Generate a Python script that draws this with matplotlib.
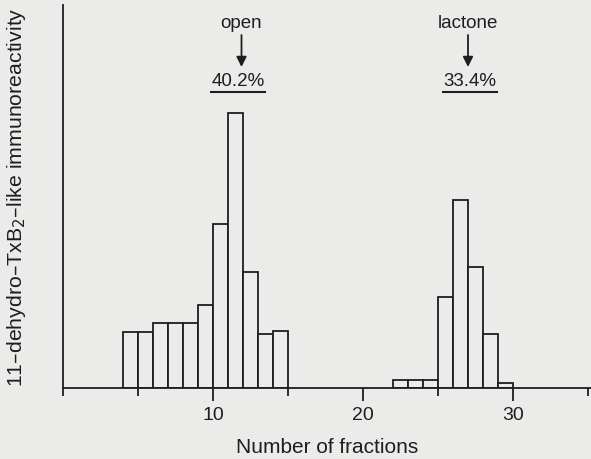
import matplotlib.pyplot as plt
from matplotlib.ticker import MultipleLocator

plt.rcParams['font.family'] = ['Liberation Sans', 'DejaVu Sans']

# fraction bins (left edges) and immunoreactivity (arbitrary units)
open_fractions = [4, 5, 6, 7, 8, 9, 10, 11, 12, 13, 14]
open_values = [56, 56, 65, 65, 65, 83, 164, 275, 116, 54, 57]
lactone_fractions = [22, 23, 24, 25, 26, 27, 28, 29]
lactone_values = [8, 8, 8, 91, 188, 121, 54, 5]

peak_labels = ['open', 'lactone']
peak_pcts = ['40.2%', '33.4%']
peak_x = [11.9, 27.0]
pct_x = [11.65, 27.15]

bg = '#ebebea'
ink = '#1e1e1e'

fig = plt.figure(figsize=(5.91, 4.59), dpi=100, facecolor=bg)
ax = fig.add_axes([63 / 591, 71 / 459, 528 / 591, 383 / 459], facecolor=bg)

ax.bar(open_fractions, open_values, width=1, align='edge',
       facecolor=bg, edgecolor=ink, linewidth=1.3)
ax.bar(lactone_fractions, lactone_values, width=1, align='edge',
       facecolor=bg, edgecolor=ink, linewidth=1.3)

ax.set_xlim(0, 35.2)
ax.set_ylim(0, 383)

for s in ['top', 'right']:
    ax.spines[s].set_visible(False)
for s in ['left', 'bottom']:
    ax.spines[s].set_linewidth(1.3)
    ax.spines[s].set_color(ink)

ax.xaxis.set_minor_locator(MultipleLocator(5))
ax.set_xticks([10, 20, 30])
ax.tick_params(axis='x', which='major', direction='out', length=9, width=1.3,
               color=ink, labelsize=14, pad=5, labelcolor=ink)
ax.tick_params(axis='x', which='minor', direction='out', length=5.5, width=1.3,
               color=ink)
ax.set_yticks([])

ax.set_xlabel('Number of fractions', fontsize=15, color=ink, labelpad=10)
fig.text(17 / 591, 1 - 197 / 459,
         '11\u2013dehydro\u2013TxB$_2$\u2013like immunoreactivity',
         rotation=90, ha='center', va='center', fontsize=15.3, color=ink)

for lab, pct, px, tx in zip(peak_labels, peak_pcts, peak_x, pct_x):
    ax.text(px, 365, lab, ha='center', va='center', fontsize=13.5, color=ink)
    ax.annotate('', xy=(px, 321), xytext=(px, 353),
                arrowprops=dict(arrowstyle='-|>', color=ink, lw=1.3,
                                mutation_scale=15, shrinkA=0, shrinkB=0))
    ax.text(tx, 306, pct, ha='center', va='center', fontsize=13.5,
            color=ink)
    ax.plot([tx - 1.8, tx + 1.8], [296, 296], color=ink, lw=1.5,
            clip_on=False)

fig.savefig('out.png', dpi=100, facecolor=bg)
